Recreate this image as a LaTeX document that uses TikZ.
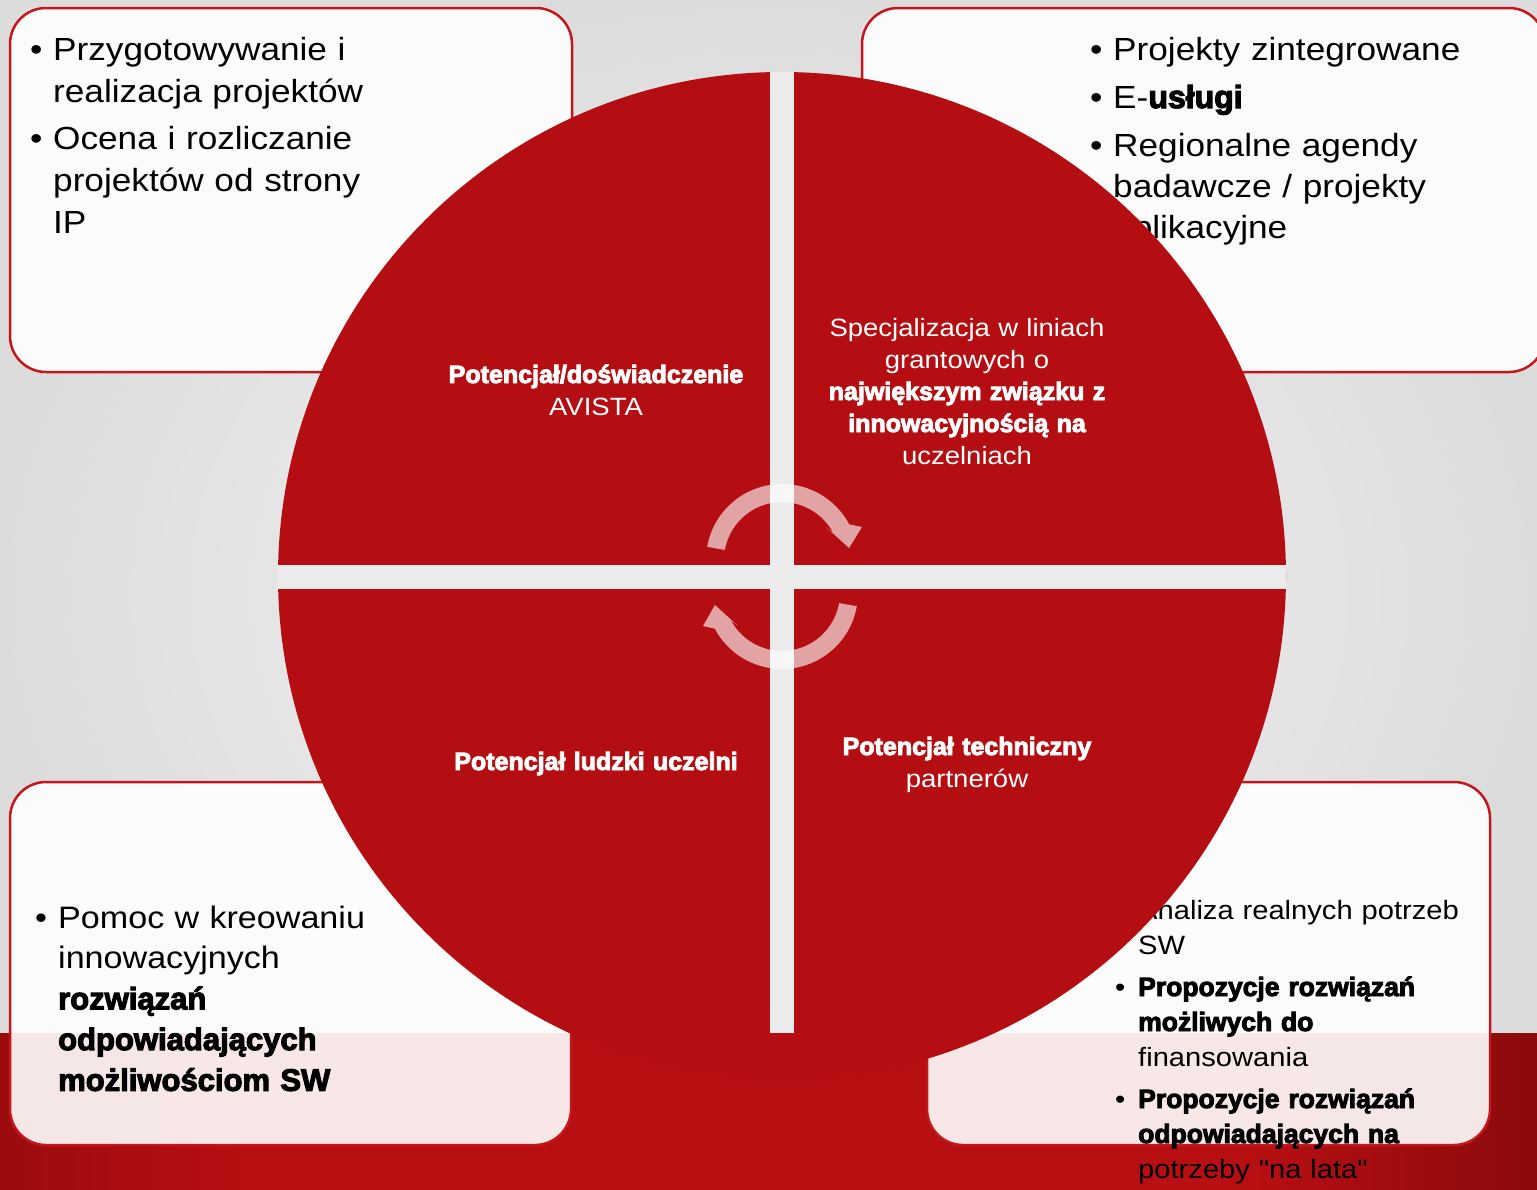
\documentclass[tikz,border=0pt]{standalone}
\usepackage{fontspec}
\setmainfont{Liberation Sans}[Ligatures=TeXOff,UprightFeatures={FakeStretch=1.1},BoldFeatures={FakeBold=3.5}]
\definecolor{tlowew}{HTML}{F6F6F6}
\definecolor{tlozew}{HTML}{DCDCDC}
\definecolor{szczelina}{HTML}{ECECEC}
\definecolor{kolo}{HTML}{B40E12}
\definecolor{ramka}{HTML}{C4161B}
\definecolor{pasL}{HTML}{9A0B0E}
\definecolor{pasS}{HTML}{B80F12}
\definecolor{pasP}{HTML}{8A0A0C}
\newcommand{\pkt}[1]{\noindent\makebox[23pt][l]{\textbullet}\begin{tabular}[t]{@{}l@{}}#1\end{tabular}}
\begin{document}
\begin{tikzpicture}[x=1pt, y=-1pt,
  ramka/.style={draw=ramka, line width=2.5pt, fill=white, fill opacity=0.9,
    rounded corners=36pt, inner sep=0pt, outer sep=0pt},
  opis/.style={anchor=base west, inner sep=0pt, text width=#1},
  srodek/.style={anchor=base, inner sep=0pt, text width=370pt, align=center,
    text=white, font=\fontsize{25}{32}\selectfont},
  strzalka/.style={fill=white, fill opacity=0.62}]
  \useasboundingbox (0,0) rectangle (1537,1189);
  % tlo i pas
  \shade[inner color=tlowew, outer color=tlozew] (-5,-5) rectangle (1542,1194);
  \fill[pasS] (0,1033) rectangle (1542,1194);
  \shade[left color=pasL, right color=pasS] (-5,1033) rectangle (250,1194);
  \shade[left color=pasS, right color=pasP] (1250,1033) rectangle (1542,1194);
  % ramki
  \node[ramka, minimum width=562pt, minimum height=364pt] (lg) at (291,190) {};
  \node[ramka, minimum width=683pt, minimum height=364pt] (pg) at (1203.5,190) {};
  \node[ramka, minimum width=561pt, minimum height=363pt] (ld) at (290.5,963.5) {};
  \node[ramka, minimum width=563pt, minimum height=363pt] (pd) at (1208.5,963.5) {};
  % teksty w ramkach
  \node[opis=500pt, font=\fontsize{32}{42}\selectfont,
    execute at begin node={\setlength{\parskip}{4pt}}] (lgt) at (30,60)
    {\pkt{Przygotowywanie i\\ realizacja projektów}\par
     \pkt{Ocena i rozliczanie\\ projektów od strony\\ IP}};
  \node[opis=420pt, font=\fontsize{32}{41}\selectfont,
    execute at begin node={\setlength{\parskip}{7pt}}] (pgt) at (1090,60)
    {\pkt{Projekty zintegrowane}\par
     \pkt{E-\bfseries usługi}\par
     \pkt{Regionalne agendy\\ badawcze / projekty\\ aplikacyjne}};
  \node[opis=500pt, font=\fontsize{31}{40.7}\selectfont] (ldt) at (35,928)
    {\pkt{Pomoc w kreowaniu\\ innowacyjnych\\ \bfseries rozwiązań\\
     \bfseries odpowiadających\\ \bfseries możliwościom SW}};
  \node[opis=400pt, font=\fontsize{26.5}{35}\selectfont,
    execute at begin node={\setlength{\parskip}{6pt}}] (pdt) at (1115,919)
    {\pkt{Analiza realnych potrzeb\\ SW}\par
     \pkt{\bfseries Propozycje rozwiązań\\ \bfseries możliwych do\\ finansowania}\par
     \pkt{\bfseries Propozycje rozwiązań\\ \bfseries odpowiadających na\\ potrzeby "na lata"}};
  % kolo
  \fill[kolo] (782,576) circle[radius=504];
  \begin{scope}
    \clip (782,576) circle[radius=504];
    \fill[szczelina] (770,0) rectangle (794,1033);
    \fill[szczelina] (0,565) rectangle (1537,589);
  \end{scope}
  \node[srodek] (potd) at (596,383) {{\bfseries Potencjał/doświadczenie}\\ AVISTA};
  \node[srodek] (spec) at (967,336) {Specjalizacja w liniach\\ grantowych o\\ {\bfseries największym związku z\\ innowacyjnością na}\\ uczelniach};
  \node[srodek] (potl) at (596,770) {\bfseries Potencjał ludzki uczelni};
  \node[srodek] (pott) at (967,755) {{\bfseries Potencjał techniczny}\\ partnerów};
  % strzalki
  \fill[strzalka] (707.2,546.8) arc[start angle=190, end angle=332, radius=76]
    -- (862,527) -- (849,548) -- (826,527) -- (833.2,532.8)
    arc[start angle=332, end angle=190, radius=58] -- cycle;
  \fill[strzalka] (856.8,606.2) arc[start angle=10, end angle=152, radius=76]
    -- (703,626) -- (715,605) -- (738,626) -- (730.8,620.2)
    arc[start angle=152, end angle=10, radius=58] -- cycle;
\end{tikzpicture}
\end{document}
